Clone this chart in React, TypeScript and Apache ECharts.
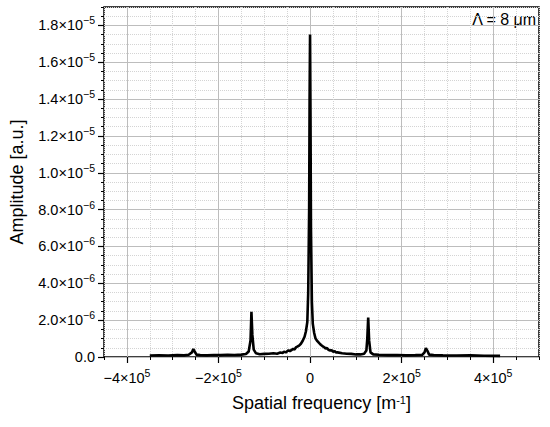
import React, { useEffect, useRef } from "react";
import * as echarts from "echarts";

// spatial frequency in units of 1e3 m^-1
const freqK = [
  -350, -330, -310, -290, -275, -265, -258, -255, -252, -248, -240, -225, -210, -195, -180, -165, -150, -140,
  -134, -130, -128, -126, -123, -118, -110, -100, -90, -80, -72, -65, -60, -57, -53, -50, -47, -44, -40, -37,
  -34, -31, -28, -24, -20, -16, -12, -9, -6, -4, -2, -1, 0, 1, 2, 4, 6, 9, 12, 16, 20, 24, 28, 31, 34, 37,
  40, 44, 47, 50, 54, 57, 60, 70, 80, 90, 100, 110, 118, 123, 125, 127, 129, 132, 138, 150, 170, 190, 210,
  230, 245, 250, 253, 256, 260, 270, 290, 320, 350, 380, 415,
];
// amplitude in units of 1e-7 a.u.
const ampE7 = [
  0.8, 0.9, 0.8, 1.0, 0.9, 1.2, 2.5, 4.3, 3.0, 1.3, 1.0, 0.9, 1.1, 1.0, 1.2, 1.1, 1.3, 1.6,
  3.0, 9, 24.6, 12, 4, 2.0, 1.5, 1.7, 1.8, 2.0, 1.8, 2.4, 2.2, 2.9, 2.5, 3.1, 3.6, 3.2, 3.9, 4.4,
  4.1, 5.2, 5.6, 6.2, 7.2, 8.8, 11, 14, 19, 35, 80, 140, 175, 130, 70, 30, 18, 13, 10, 8.6, 7.5, 6.5, 5.8, 5.3, 4.6, 4.9,
  3.9, 3.5, 3.7, 2.9, 3.1, 2.4, 2.5, 2.0, 1.8, 1.7, 1.4, 1.4, 1.8, 3.5, 10, 21.4, 9, 2.5, 1.4, 1.2, 1.0, 1.1, 0.9,
  1.0, 1.1, 2.5, 4.8, 3.5, 1.3, 1.0, 0.9, 0.8, 0.9, 0.7, 0.6,
];

const xMajorTicks = [-400000, -200000, 0, 200000, 400000];
const yMajorTicks = [0, 2e-6, 4e-6, 6e-6, 8e-6, 1e-5, 1.2e-5, 1.4e-5, 1.6e-5, 1.8e-5];

const FONT = "'Liberation Sans', Arial, sans-serif";

const rich = {
  b: { fontSize: 14.5, fontFamily: FONT, color: "#000", lineHeight: 21 },
  s: { fontSize: 10.5, fontFamily: FONT, color: "#000", lineHeight: 10, verticalAlign: "top" },
};

function yFmt(v: number): string {
  if (Math.abs(v) < 1e-12) return "{b|0.0}";
  const e = Math.floor(Math.log10(v) + 1e-9);
  const m = v / Math.pow(10, e);
  return `{b|${m.toFixed(1)}×10}{s|−${-e}}`;
}
function xFmt(v: number): string {
  if (Math.abs(v) < 1) return "{b|0}";
  const m = Math.round(v / 1e5);
  return `{b|${m < 0 ? "−" : ""}${Math.abs(m)}×10}{s|5}`;
}

export default function App() {
  const ref = useRef<HTMLDivElement>(null);
  useEffect(() => {
    if (!ref.current) return;
    const chart = echarts.init(ref.current, null, { renderer: "svg" });
    const data = freqK.map((f, i) => [f * 1e3, ampE7[i] * 1e-7]);
    const xMin = -450000, xMax = 500000, yMin = 0, yMax = 1.9e-5;
    chart.setOption({
      animation: false,
      grid: {
        left: 104, right: 11, top: 7, bottom: 70,
        show: true, borderColor: "#000", borderWidth: 1.5, backgroundColor: "transparent",
      },
      xAxis: [
        {
          type: "value", min: xMin, max: xMax, interval: 50000, position: "bottom",
          axisLine: { show: false, onZero: false },
          axisTick: { show: true, inside: false, length: 3, lineStyle: { color: "#000", width: 1 } },
          axisLabel: { show: false },
          splitLine: { show: true, lineStyle: { color: "#d4d4d4", type: "dotted", width: 1 } },
        },
        {
          type: "value", min: xMin, max: xMax, position: "bottom", offset: 0,
          axisLine: { show: false, onZero: false },
          axisTick: { show: true, inside: false, length: 6, customValues: xMajorTicks, lineStyle: { color: "#000", width: 1.2 } },
          axisLabel: { show: true, customValues: xMajorTicks, formatter: xFmt, rich, margin: 10 },
          splitLine: { show: true, lineStyle: { color: "#bdbdbd", type: "solid", width: 1 } },
          name: "Spatial frequency [m{s2|-1}]",
          nameLocation: "middle",
          nameGap: 37,
          nameTextStyle: {
            fontSize: 18, fontFamily: FONT, color: "#000",
            rich: { s2: { fontSize: 11, fontFamily: FONT, color: "#000", lineHeight: 10, verticalAlign: "top" } },
          },
        },
      ],
      yAxis: [
        {
          type: "value", min: yMin, max: yMax, interval: 5e-7, position: "left",
          axisLine: { show: false, onZero: false },
          axisTick: { show: true, inside: false, length: 3, lineStyle: { color: "#000", width: 1 } },
          axisLabel: { show: false },
          splitLine: { show: true, lineStyle: { color: "#d4d4d4", type: "dotted", width: 1 } },
        },
        {
          type: "value", min: yMin, max: yMax, position: "left", offset: 0,
          axisLine: { show: false, onZero: false },
          axisTick: { show: true, inside: false, length: 6, customValues: yMajorTicks, lineStyle: { color: "#000", width: 1.2 } },
          axisLabel: { show: true, customValues: yMajorTicks, formatter: yFmt, rich, margin: 9 },
          splitLine: { show: true, lineStyle: { color: "#bdbdbd", type: "solid", width: 1 } },
          name: "Amplitude [a.u.]",
          nameLocation: "middle",
          nameGap: 78,
          nameTextStyle: { fontSize: 18, fontFamily: FONT, color: "#000" },
        },
      ],
      graphic: [
        {
          type: "text", right: 13, top: 11,
          style: { text: "Λ = 8 μm", fontSize: 16, fontFamily: FONT, fill: "#000" },
        },
      ],
      series: [
        {
          type: "line", xAxisIndex: 0, yAxisIndex: 0, data, showSymbol: false, symbol: "none",
          lineStyle: { color: "#000", width: 2.6 }, z: 5,
        },
      ],
    });
    return () => chart.dispose();
  }, []);
  return <div ref={ref} style={{ position: "absolute", left: 0, top: 0, width: 550, height: 427 }} />;
}
